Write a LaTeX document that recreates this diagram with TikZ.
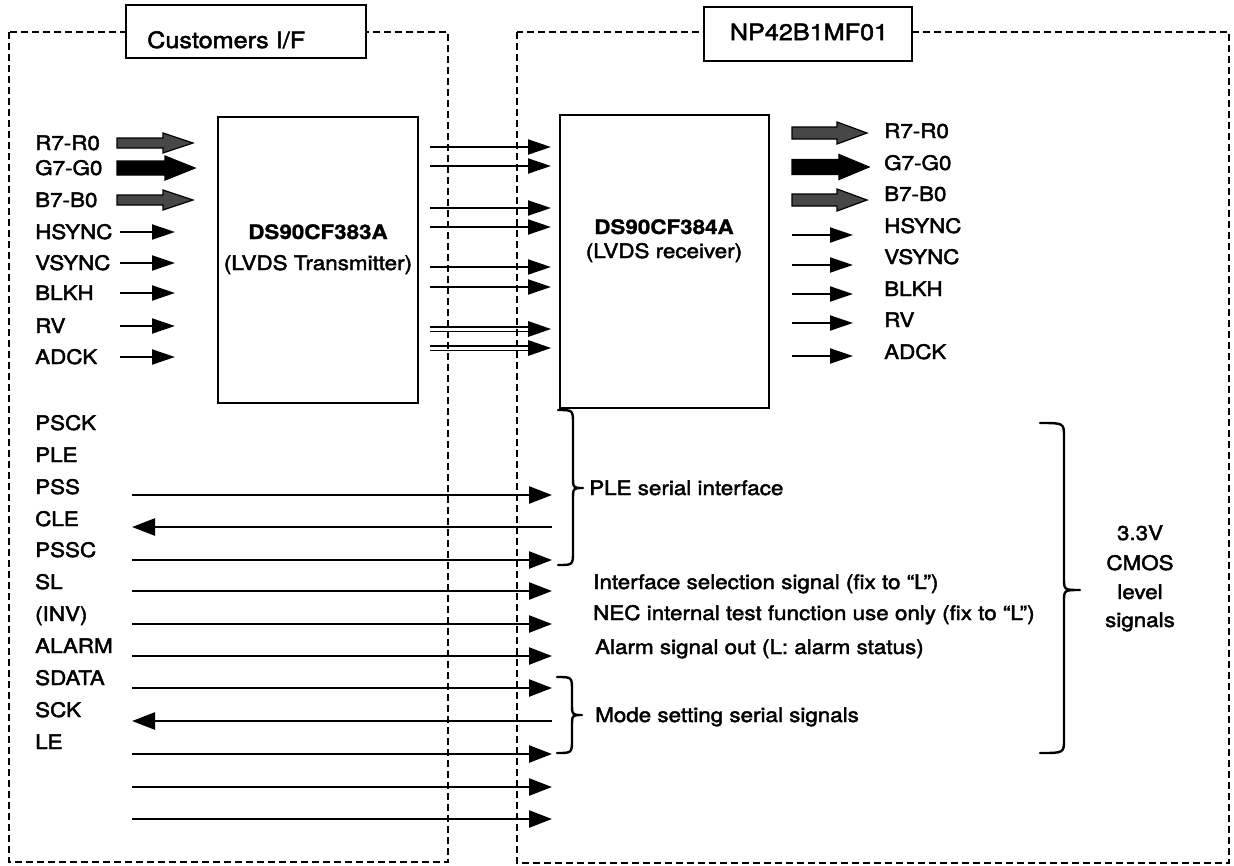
\documentclass[tikz,border=0pt]{standalone}
\usepackage{fontspec}
\setmainfont{TeX Gyre Heros}[FakeStretch=1.12, UprightFeatures={FakeBold=2.2}, BoldFeatures={FakeBold=1.2}]
\usetikzlibrary{arrows.meta}
\newcommand\lblfont{\fontsize{20}{24}\selectfont}
\newcommand\ttlfont{\fontsize{22.5}{27}\selectfont}
\newcommand\fatarrow[6]{%
  \filldraw[draw=black, line width=1.2pt, fill=#6] (#1,{#3-#4}) -- ({#2-30},{#3-#4}) -- ({#2-30},{#3-#5}) -- (#2,#3) -- ({#2-30},{#3+#5}) -- ({#2-30},{#3+#4}) -- (#1,{#3+#4}) -- cycle;}
\newcommand\curlybr[5]{%
  \draw[brc] (#1,#2) .. controls ({#1+#5*0.6},#2) .. ({#1+#5*0.6},{#2+14}) -- ({#1+#5*0.6},{#3-12}) .. controls ({#1+#5*0.6},#3) .. ({#1+#5},#3) .. controls ({#1+#5*0.6},#3) .. ({#1+#5*0.6},{#3+12}) -- ({#1+#5*0.6},{#4-14}) .. controls ({#1+#5*0.6},#4) .. (#1,#4);}
\begin{document}
\begin{tikzpicture}[x=1pt,y=-1pt,
  dbox/.style={line width=2.4pt, dash pattern=on 7pt off 4pt},
  chip/.style={draw, line width=2.4pt, fill=white, inner sep=0pt},
  lbl/.style={anchor=base west, inner sep=0pt, font=\lblfont},
  ctr/.style={anchor=base, inner sep=0pt, font=\lblfont},
  sig/.style={line width=2pt, -{Triangle[length=23pt,width=15pt]}},
  bsig/.style={line width=2.5pt, -{Triangle[length=23pt,width=17pt]}},
  brc/.style={line width=2.4pt, line cap=round, line join=round}]
\useasboundingbox (0,0) rectangle (1234,865);
\fill[white] (0,0) rectangle (1234,865);

% dashed outlines
\draw[dbox] (9,32) rectangle (448,862);
\draw[dbox] (517,32) rectangle (1229,863);

% titles
\node[chip, minimum width=240pt, minimum height=53pt] (cif) at (246,31.5) {};
\node[anchor=base west, inner sep=0pt, font=\ttlfont] (ciftxt) at (147,48) {Customers I/F};
\node[chip, minimum width=208pt, minimum height=54pt] (np) at (808,34) {};
\node[anchor=base, inner sep=0pt, font=\ttlfont] (nptxt) at (809,40) {NP42B1MF01};

% chips
\node[chip, minimum width=200pt, minimum height=286pt] (tx) at (318,260) {};
\node[ctr, font=\lblfont\bfseries] (txn) at (318,239) {DS90CF383A};
\node[ctr] (txd) at (318,270) {(LVDS Transmitter)};
\node[chip, minimum width=209pt, minimum height=293pt] (rx) at (664.5,261.5) {};
\node[ctr, font=\lblfont\bfseries] (rxn) at (664,234) {DS90CF384A};
\node[ctr] (rxd) at (664,258) {(LVDS receiver)};

% left top labels
\foreach \t/\y [count=\i] in {R7-R0/143, G7-G0/168, B7-B0/200, HSYNC/232, VSYNC/263, BLKH/293, RV/326, ADCK/357}
  \node[lbl] (ll\i) at (35,\y+7) {\t};
% right top labels
\foreach \t/\y [count=\i] in {R7-R0/131, G7-G0/163, B7-B0/194, HSYNC/226, VSYNC/257, BLKH/289, RV/320, ADCK/352}
  \node[lbl] (rl\i) at (884,\y+7) {\t};

% fat bus arrows
\fatarrow{117}{193}{143}{5}{10}{black!72}
\fatarrow{117}{195}{168}{7}{12}{black}
\fatarrow{117}{193}{200}{5}{10}{black!72}
\fatarrow{792}{867}{133}{6}{11}{black!72}
\fatarrow{792}{869}{167}{7.5}{12.5}{black}
\fatarrow{792}{867}{200}{6}{11}{black!72}

% thin left inputs
\foreach \y [count=\i] in {232,263,293,326,357} {
  \coordinate (la\i) at (120,\y); \coordinate (lb\i) at (175,\y);
  \draw[sig] (la\i) -- (lb\i);
}
% thin right outputs
\foreach \y [count=\i] in {235,265,294,323,356} {
  \coordinate (ra\i) at (792,\y); \coordinate (rb\i) at (853,\y);
  \draw[sig] (ra\i) -- (rb\i);
}
% LVDS links
\foreach \y [count=\i] in {147,166,208,227,267,287} {
  \coordinate (ma\i) at (430,\y); \coordinate (mb\i) at (551,\y);
  \draw[sig] (ma\i) -- (mb\i);
}
\foreach \y [count=\i] in {329,348} {
  \coordinate (da\i) at (430,\y); \coordinate (db\i) at (551,\y);
  \draw[line width=1.6pt] ([yshift=2.3pt]da\i) -- ([yshift=2.3pt,xshift=-18pt]db\i);
  \draw[line width=1.6pt] ([yshift=-2.3pt]da\i) -- ([yshift=-2.3pt,xshift=-18pt]db\i);
  \fill (db\i) -- ++(-23,-8) -- ++(0,16) -- cycle;
}

% bottom labels
\foreach \t/\y [count=\i] in {PSCK/423, PLE/455, PSS/487, CLE/519, PSSC/550, SL/582, (INV)/614, ALARM/646, SDATA/678, SCK/710, LE/742}
  \node[lbl] (bl\i) at (35,\y+7) {\t};

% bottom signals
\foreach \y/\d [count=\i] in {495/r, 527/l, 560/r, 591/r, 624/r, 656/r, 688/r, 721/l, 754/r, 787/r, 819/r} {
  \coordinate (sa\i) at (132,\y); \coordinate (sb\i) at (552,\y);
  \if\d r \draw[bsig] (sa\i) -- (sb\i); \else \draw[bsig] (sb\i) -- (sa\i); \fi
}

% braces
\curlybr{558}{410}{488}{565}{25}
\curlybr{557}{677}{715}{753}{25}
\curlybr{1040}{423}{590}{753}{40}

% descriptions
\node[lbl] (d1) at (589,495) {PLE serial interface};
\node[lbl] (d2) at (593,589) {Interface selection signal (fix to “L”)};
\node[lbl] (d3) at (593,620) {NEC internal test function use only (fix to “L”)};
\node[lbl] (d4) at (595,654) {Alarm signal out (L: alarm status)};
\node[lbl] (d5) at (595,722) {Mode setting serial signals};

\node[ctr] (v1) at (1140,540) {3.3V};
\node[ctr] (v2) at (1140,570) {CMOS};
\node[ctr] (v3) at (1140,599) {level};
\node[ctr] (v4) at (1140,627) {signals};
\end{tikzpicture}
\end{document}
